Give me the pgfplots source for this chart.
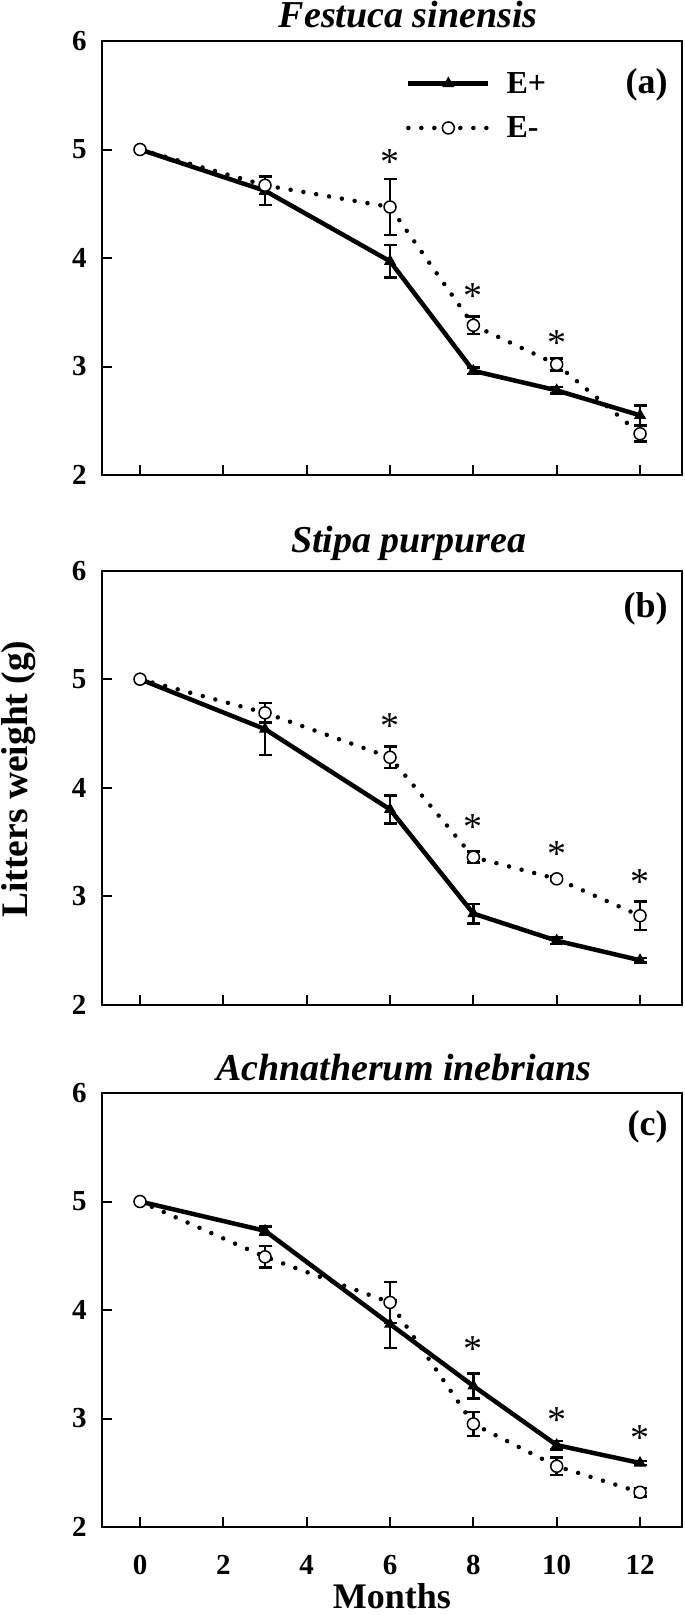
\documentclass[border=0pt]{standalone}
\usepackage{fontspec}
\setmainfont{Liberation Serif}
\usepackage{pgfplots}
\pgfplotsset{compat=1.18}

\tikzset{plabel/.style={font=\bfseries\fontsize{36}{36}\selectfont, anchor=east, inner sep=0pt}}

\pgfplotsset{
  panel/.style={
    scale only axis, width=579.4pt, height=434pt,
    xmin=-0.905, xmax=13.0, ymin=2, ymax=6,
    xtick={0,2,4,6,8,10,12}, ytick={2,3,4,5,6},
    tick align=inside, tick pos=left,
    major tick length=10pt,
    axis line style={line width=2pt},
    every tick/.style={line width=2pt, black},
    /pgf/number format/assume math mode=true,
    ticklabel style={font=\bfseries\fontsize{29}{29}\selectfont, inner sep=0pt},
    yticklabel style={xshift=-15.6pt},
    xticklabel style={yshift=-28pt},
    clip=false,
    title style={font=\bfseries\itshape\fontsize{38}{38}\selectfont, inner sep=0pt, anchor=base},
  },
  eplus/.style={black, line width=4.5pt, mark=triangle*, mark size=6pt,
     mark options={solid, line width=1pt}},
  eminus/.style={black, line width=4.5pt, line cap=round, dash pattern=on 0pt off 13pt,
     mark=*, mark size=6pt, mark options={solid, fill=white, draw=black, line width=1.5pt}},
  ebars/.style={black, only marks, mark=none, forget plot,
     error bars/.cd, y dir=both, y explicit,
     error bar style={line width=2.5pt, solid},
     error mark options={rotate=90, mark size=6.5pt, line width=2.5pt}},
  stars/.style={only marks, mark=none, forget plot,
     nodes near coords={*}, nodes near coords align={center},
     every node near coord/.append style={font=\fontsize{38}{38}\selectfont, inner sep=0pt, anchor=center}},
}

\begin{document}
\begin{tikzpicture}
\path[use as bounding box] (0,0) rectangle (685pt,-1615pt);

% ---------------- panel (a)
\begin{axis}[panel, at={(102.3pt,-41pt)}, anchor=north west,
  xticklabels={},
  title={Festuca sinensis}, title style={at={(axis description cs:0.528,1)}, yshift=8pt},
  legend style={at={(rel axis cs:0.524,0.933)}, anchor=north west, draw=none, fill=none,
     inner sep=0pt, column sep=14pt, row sep=18pt,
     font=\bfseries\fontsize{32}{32}\selectfont, nodes={inner sep=2pt}},
  legend cell align=left,
  legend image code/.code={\draw[mark repeat=2, mark phase=2, #1] plot coordinates {(0pt,0pt) (40pt,0pt) (80pt,0pt)};},
]
\addplot[ebars] coordinates {(3,4.62) +- (0,0.13) (6,3.97) +- (0,0.15) (8,2.96) +- (0,0.03) (10,2.78) +- (0,0.03) (12,2.55) +- (0,0.09)};
\addplot[ebars] coordinates {(3,4.67) +- (0,0.08) (6,4.47) +- (0,0.26) (8,3.38) +- (0,0.08) (10,3.02) +- (0,0.055) (12,2.38) +- (0,0.07)};
\addplot[eplus] coordinates {(0,5) (3,4.62) (6,3.97) (8,2.96) (10,2.78) (12,2.55)};
\addlegendentry{E+}
\addplot[eminus] coordinates {(0,5) (3,4.67) (6,4.47) (8,3.38) (10,3.02) (12,2.38)};
\addlegendentry{E-}
\addplot[stars] coordinates {(6,4.88) (8,3.65) (10,3.22)};
\node[plabel] at (rel axis cs:0.976,0.899) {(a)};
\end{axis}

% ---------------- panel (b)
\begin{axis}[panel, at={(102.3pt,-570.7pt)}, anchor=north west,
  xticklabels={},
  title={Stipa purpurea}, title style={at={(axis description cs:0.529,1)}, yshift=12pt},
  ylabel={Litters weight (g)},
  ylabel style={at={(axis description cs:-0.145,0.52)}, anchor=center, inner sep=0pt,
     font=\bfseries\fontsize{37.5}{37.5}\selectfont},
]
\addplot[ebars] coordinates {(3,4.54) +- (0,0.24) (6,3.80) +- (0,0.13) (8,2.84) +- (0,0.09) (10,2.59) +- (0,0.03) (12,2.41) +- (0,0.02)};
\addplot[ebars] coordinates {(3,4.69) +- (0,0.09) (6,4.28) +- (0,0.10) (8,3.36) +- (0,0.05) (10,3.16) +- (0,0.02) (12,2.82) +- (0,0.13)};
\addplot[eplus] coordinates {(0,5) (3,4.54) (6,3.80) (8,2.84) (10,2.59) (12,2.41)};
\addplot[eminus] coordinates {(0,5) (3,4.69) (6,4.28) (8,3.36) (10,3.16) (12,2.82)};
\addplot[stars] coordinates {(6,4.57) (8,3.64) (10,3.39) (12,3.13)};
\node[plabel] at (rel axis cs:0.976,0.913) {(b)};
\end{axis}

% ---------------- panel (c)
\begin{axis}[panel, at={(102.3pt,-1093pt)}, anchor=north west,
  title={Achnatherum inebrians}, title style={at={(axis description cs:0.52,1)}, yshift=7pt},
  xlabel={Months},
  xlabel style={at={(axis description cs:0.5,-0.159)}, anchor=center, inner sep=0pt,
     font=\bfseries\fontsize{36}{36}\selectfont},
]
\addplot[ebars] coordinates {(3,4.73) +- (0,0.04) (6,3.87) +- (0,0.22) (8,3.30) +- (0,0.115) (10,2.755) +- (0,0.04) (12,2.59) +- (0,0.02)};
\addplot[ebars] coordinates {(3,4.49) +- (0,0.10) (6,4.07) +- (0,0.19) (8,2.95) +- (0,0.11) (10,2.56) +- (0,0.08) (12,2.32) +- (0,0.04)};
\addplot[eplus] coordinates {(0,5) (3,4.73) (6,3.87) (8,3.30) (10,2.755) (12,2.59)};
\addplot[eminus] coordinates {(0,5) (3,4.49) (6,4.07) (8,2.95) (10,2.56) (12,2.32)};
\addplot[stars] coordinates {(8,3.64) (10,2.99) (12,2.82)};
\node[plabel] at (rel axis cs:0.976,0.922) {(c)};
\end{axis}
\end{tikzpicture}
\end{document}
